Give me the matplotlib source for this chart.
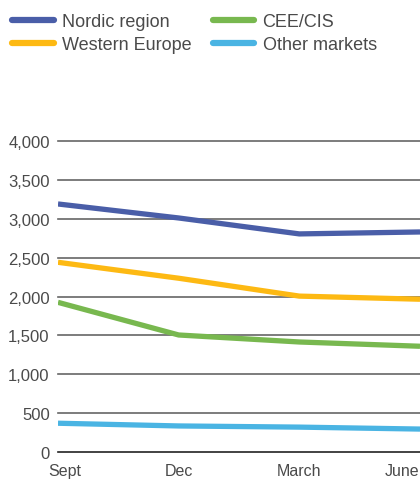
import matplotlib
matplotlib.use("Agg")
import matplotlib.pyplot as plt
from matplotlib.ticker import FuncFormatter
from matplotlib.transforms import ScaledTranslation

months = ["Sept", "Dec", "March", "June"]
nordic = [3190, 3010, 2805, 2830]
western = [2440, 2235, 2005, 1965]
cee = [1925, 1505, 1415, 1360]
other = [370, 335, 320, 295]
series = [
    ("Nordic region", nordic, "#4a5ea8"),
    ("Western Europe", western, "#fdb913"),
    ("CEE/CIS", cee, "#78b84f"),
    ("Other markets", other, "#4ab4e3"),
]
yticks = [0, 500, 1000, 1500, 2000, 2500, 3000, 3500, 4000]

plt.rcParams['font.family'] = ['Liberation Sans', 'DejaVu Sans']
fig = plt.figure(figsize=(4.2, 4.81), dpi=100)
ax = fig.add_axes([58/420, 1-453/481, 1-58/420, (453-142)/481])

x = list(range(len(months)))
handles = []
for name, vals, col in series:
    h, = ax.plot(x, vals, color=col, lw=3.8, solid_capstyle='butt', label=name, zorder=3)
    handles.append(h)

ax.set_xlim(0, 3)
ax.set_ylim(0, 4000)
ax.set_yticks(yticks)
ax.yaxis.set_major_formatter(FuncFormatter(lambda v, p: f"{int(v):,}"))
ax.set_xticks(x)
ax.set_xticklabels(months)
for t in yticks:
    ax.axhline(t, color="#222" if t == 0 else "#666", lw=1.2, zorder=1, clip_on=False)
for s in ax.spines.values():
    s.set_visible(False)
ax.tick_params(axis='both', length=0, labelsize=12, colors="#4a4a4a")
ax.tick_params(axis='y', pad=6)
ax.tick_params(axis='x', labelsize=11.5, pad=8)
xl = ax.get_xticklabels()
xl[0].set_transform(xl[0].get_transform() + ScaledTranslation(7/100, 0, fig.dpi_scale_trans))
xl[-1].set_horizontalalignment('right')
xl[-1].set_transform(xl[-1].get_transform() + ScaledTranslation(-1/100, 0, fig.dpi_scale_trans))

leg = fig.legend(handles=handles, labels=[s[0] for s in series], ncol=2,
                 loc='upper left', bbox_to_anchor=(12/420, 1-14/481),
                 frameon=False, fontsize=13, handlelength=2.3, handletextpad=0.45,
                 columnspacing=1.2, labelspacing=0.35, borderpad=0, borderaxespad=0)
for t in leg.get_texts():
    t.set_color("#4a4a4a")
for l in leg.get_lines():
    l.set_linewidth(4.5)
    l.set_solid_capstyle('round')

fig.savefig("out.png", dpi=100)
